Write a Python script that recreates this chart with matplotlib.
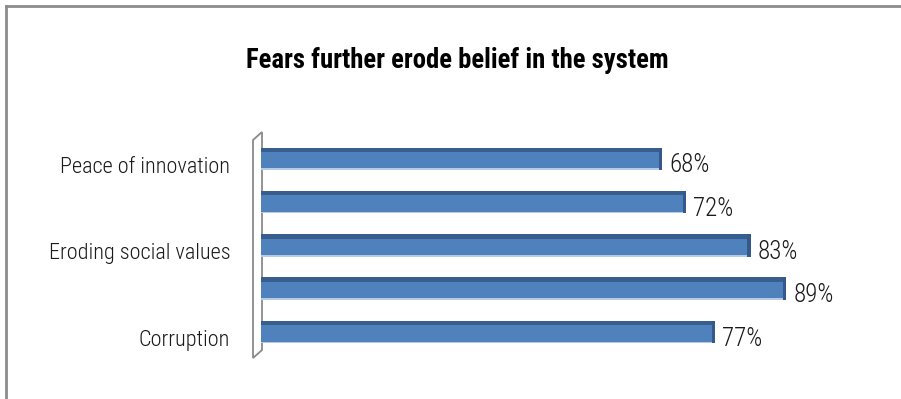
import matplotlib
matplotlib.use("Agg")
import matplotlib.pyplot as plt
from matplotlib import font_manager
from matplotlib.patches import Polygon, Rectangle

categories = ["Peace of innovation", "", "Eroding social values", "", "Corruption"]
values = [68, 72, 83, 89, 77]
value_labels = ["68%", "72%", "83%", "89%", "77%"]
title = "Fears further erode belief in the system"

available = {f.name for f in font_manager.fontManager.ttflist}
narrow = next((n for n in ["Liberation Sans Narrow", "Roboto Condensed", "DejaVu Sans Condensed",
                           "Liberation Sans"] if n in available), "DejaVu Sans")

fig = plt.figure(figsize=(9.01, 3.99), dpi=100)
fig.patch.set_facecolor("white")

# frame lines along the top and left edges
fig.add_artist(plt.Line2D([6 / 901, 1], [1 - 6 / 399, 1 - 6 / 399], transform=fig.transFigure,
                          color="#8c8c8c", lw=2))
fig.add_artist(plt.Line2D([6 / 901, 6 / 901], [0, 1 - 6 / 399], transform=fig.transFigure,
                          color="#8c8c8c", lw=2))

ax = fig.add_axes([261 / 901, 41 / 399, 590 / 901, 226 / 399])
ax.set_xlim(0, 100)
ax.set_ylim(4.6, -0.62)
ax.axis("off")

ypos = list(range(len(values)))
h = 0.52
front = "#4F81BD"
top = "#385E8F"
ax.barh(ypos, values, height=h, color=front, edgecolor="none", zorder=2)
# top face and bottom highlight of each bar
ax.barh([y - h / 2 + 0.05 for y in ypos], values, height=0.10, color=top, edgecolor="none", zorder=3)
ax.barh([y + h / 2 - 0.02 for y in ypos], values, height=0.04, color="#B4CAE6", edgecolor="none", zorder=3)
# darker end cap
for y, v in zip(ypos, values):
    ax.add_patch(Rectangle((v - 0.55, y - h / 2), 0.55, h, color="#34598A", zorder=4, lw=0))

for y, v, lab in zip(ypos, values, value_labels):
    ax.text(v + 1.2, y + 0.15, lab, va="center", ha="left", fontsize=18, fontweight="light",
            family=narrow, color="#1a1a1a")

for y, lab in zip(ypos, categories):
    if lab:
        ax.text(-0.052, y + 0.19, lab, transform=ax.get_yaxis_transform(), va="center", ha="right",
                fontsize=16, fontweight="light", family=narrow, color="#1a1a1a")

# side wall of the plot area
wall = Polygon([(-8 / 590, 218 / 226), (1 / 590, 1.0), (1 / 590, 8 / 226), (-8 / 590, 0)],
               closed=True, facecolor="white", edgecolor="#8a8a8a", lw=1.3,
               transform=ax.transAxes, clip_on=False, zorder=1)
ax.add_patch(wall)

fig.text(457 / 901, 1 - 61 / 399, title, ha="center", va="center", fontsize=19.3,
         fontweight="bold", family=narrow, color="black")

fig.savefig("out.png", dpi=100)
